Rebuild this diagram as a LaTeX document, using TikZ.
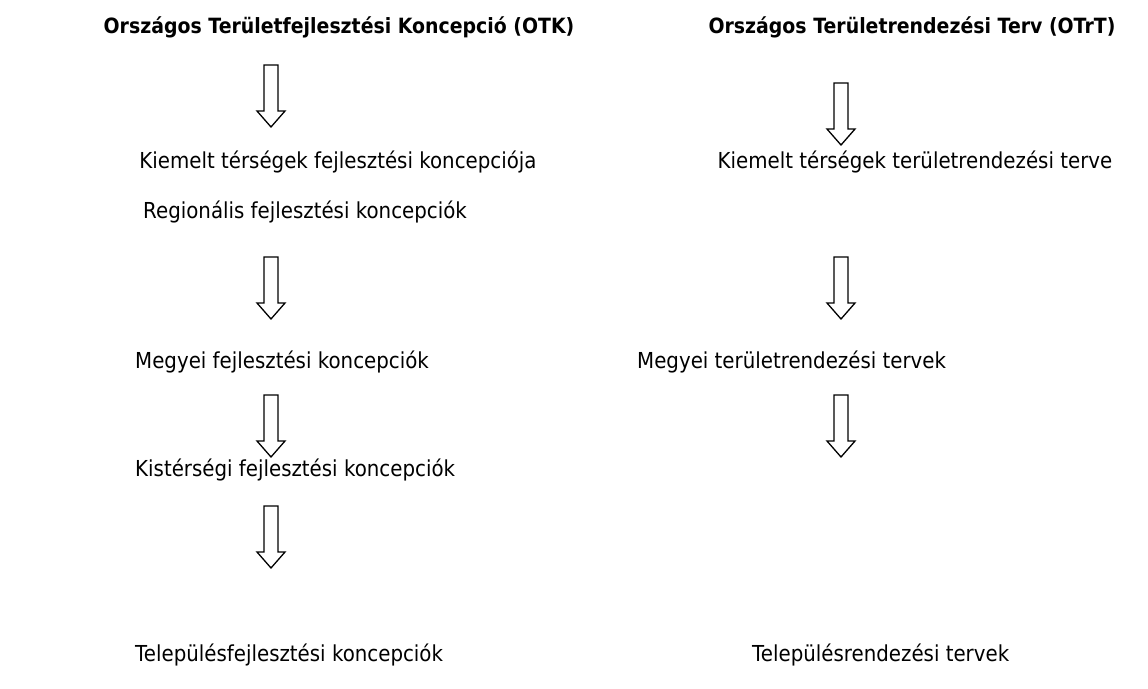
\documentclass[tikz,border=0pt]{standalone}
\usepackage{fontspec}
\setmainfont{DejaVu Sans}[FakeStretch=0.9]
\begin{document}
\begin{tikzpicture}[x=1pt,y=-1pt,
  txt/.style={inner sep=0pt, anchor=center, font=\fontsize{22}{26}\selectfont},
  ltxt/.style={txt, anchor=west},
  ttl/.style={txt, font=\fontsize{21}{26}\selectfont\bfseries},
  barrow/.pic={\draw[line width=1.3pt, line join=miter]
     (-7,0) -- (7,0) -- (7,46) -- (14,46) -- (0,62) -- (-14,46) -- (-7,46) -- cycle;}]
\useasboundingbox (0,0) rectangle (1148,688);
% left column
\node[ttl] (t1) at (339,27) {Országos Területfejlesztési Koncepció (OTK)};
\pic at (271,65) {barrow};
\node[txt] (l1) at (338,162) {Kiemelt térségek fejlesztési koncepciója};
\node[ltxt] (l2) at (143,212) {Regionális fejlesztési koncepciók};
\pic at (271,257) {barrow};
\node[ltxt] (l3) at (135,362) {Megyei fejlesztési koncepciók};
\pic at (271,395) {barrow};
\node[ltxt] (l4) at (135,470) {Kistérségi fejlesztési koncepciók};
\pic at (271,506) {barrow};
\node[ltxt] (l5) at (135,655) {Településfejlesztési koncepciók};
% right column
\node[ttl] (t2) at (912,27) {Országos Területrendezési Terv (OTrT)};
\pic at (841,83) {barrow};
\node[txt] (r1) at (915,162) {Kiemelt térségek területrendezési terve};
\pic at (841,257) {barrow};
\node[ltxt] (r2) at (637,362) {Megyei területrendezési tervek};
\pic at (841,395) {barrow};
\node[ltxt] (r3) at (752,655) {Településrendezési tervek};
\end{tikzpicture}
\end{document}
